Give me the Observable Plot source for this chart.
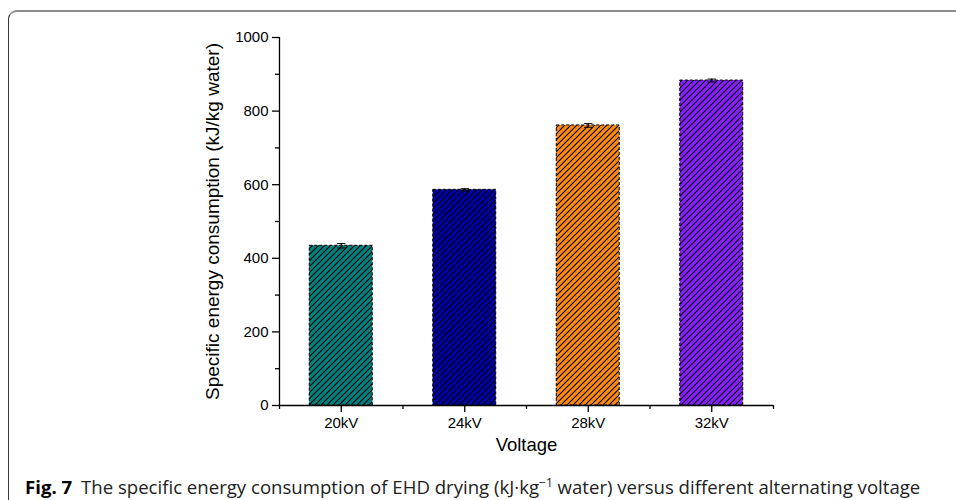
<!DOCTYPE html>
<html>
<head>
<meta charset="utf-8">
<script src="https://cdn.jsdelivr.net/npm/d3@7"></script>
<script src="https://cdn.jsdelivr.net/npm/@observablehq/plot@0.6"></script>
<style>
  html, body { margin: 0; padding: 0; background: #fff; width: 956px; height: 500px; overflow: hidden; }
  #frame { position: absolute; left: 8px; top: 10px; width: 1100px; height: 700px;
           border-top: 2px solid #8c8c8c; border-left: 1.5px solid #3a3a3a; border-top-left-radius: 9px; box-sizing: border-box; }
  #chart { position: absolute; left: 0; top: 0; }
  #caption { position: absolute; left: 25px; top: 474px; font-family: "Open Sans", "Noto Sans", sans-serif;
             font-size: 18.6px; line-height: 25px; color: #222; white-space: nowrap; }
  #caption b { color: #000; font-weight: 700; margin-right: 4px; }
  #caption sup { font-size: 12px; line-height: 0; vertical-align: 7px; }
</style>
</head>
<body>
<div id="frame"></div>
<div id="chart"></div>
<div id="caption"><b>Fig. 7</b> The specific energy consumption of EHD drying (kJ·kg<sup>−1</sup> water) versus different alternating voltage</div>
<script>
const categories = ["20kV", "24kV", "28kV", "32kV"];
const values = [434, 586, 761, 883];
const errors = [6, 3, 5, 4];
const colors = ["#008280", "#0000a6", "#ff8a12", "#8a1eff"];
const yTicks = [0, 200, 400, 600, 800, 1000];
const yMinorTicks = [100, 300, 500, 700, 900];
const yTitle = "Specific energy consumption (kJ/kg water)";
const xTitle = "Voltage";

const data = categories.map((c, i) => ({cat: c, pos: i + 1, value: values[i], err: errors[i], color: colors[i]}));
const xPositions = categories.map((c, i) => i + 1);
const xMinor = [0.5, ...categories.map((c, i) => i + 1.5)];
const half = 0.255;
const cap = 0.034;

const svg = Plot.plot({
  width: 956,
  height: 470,
  marginLeft: 279,
  marginRight: 183,
  marginTop: 37,
  marginBottom: 65,
  style: {fontFamily: "'Liberation Sans', Arial, sans-serif", fontSize: "15px", color: "black", background: "transparent", overflow: "visible"},
  x: {domain: [0.5, 4.5]},
  y: {domain: [0, 1000]},
  color: {type: "identity"},
  marks: [
    Plot.rectY(data, {x1: d => d.pos - half, x2: d => d.pos + half, y: "value", fill: "color"}),
    Plot.rectY(data, {x1: d => d.pos - half, x2: d => d.pos + half, y: "value", fill: "url(#hatch)", stroke: "black", strokeWidth: 1, strokeDasharray: "3,2"}),
    Plot.ruleX(data, {x: "pos", y1: d => d.value - d.err, y2: d => d.value + d.err, stroke: "black", strokeWidth: 1}),
    Plot.link(data, {x1: d => d.pos - cap, x2: d => d.pos + cap, y1: d => d.value + d.err, y2: d => d.value + d.err, stroke: "black", strokeWidth: 1}),
    Plot.link(data, {x1: d => d.pos - cap, x2: d => d.pos + cap, y1: d => d.value - d.err, y2: d => d.value - d.err, stroke: "black", strokeWidth: 1}),
    Plot.ruleY([0], {stroke: "black", strokeWidth: 1.3}),
    Plot.ruleX([0.5], {y1: 0, y2: 1000, stroke: "black", strokeWidth: 1.3}),
    Plot.axisY(yTicks, {tickSize: 7, tickPadding: 4, tickFormat: d => String(d), label: null, strokeWidth: 1.3}),
    Plot.axisY(yMinorTicks, {tickSize: 4, tickFormat: () => "", label: null, strokeWidth: 1.3}),
    Plot.axisX(xPositions, {tickSize: 7, tickPadding: 5, tickFormat: i => categories[i - 1], label: null, strokeWidth: 1.3}),
    Plot.axisX(xMinor, {tickSize: 4, tickFormat: () => "", label: null, strokeWidth: 1.3}),
    Plot.text([yTitle], {frameAnchor: "left", textAnchor: "middle", rotate: -90, dx: -67, fontSize: 19}),
    Plot.text([xTitle], {frameAnchor: "bottom", textAnchor: "middle", dy: 45, fontSize: 18.5})
  ]
});

const defs = d3.select(svg).insert("defs", ":first-child");
const pat = defs.append("pattern")
  .attr("id", "hatch")
  .attr("patternUnits", "userSpaceOnUse")
  .attr("width", 6)
  .attr("height", 6);
pat.append("path")
  .attr("d", "M0,6L6,0M-1.5,1.5L1.5,-1.5M4.5,7.5L7.5,4.5")
  .attr("stroke", "black")
  .attr("stroke-width", 1.1)
  .attr("fill", "none");

document.getElementById("chart").appendChild(svg);
</script>
</body>
</html>
